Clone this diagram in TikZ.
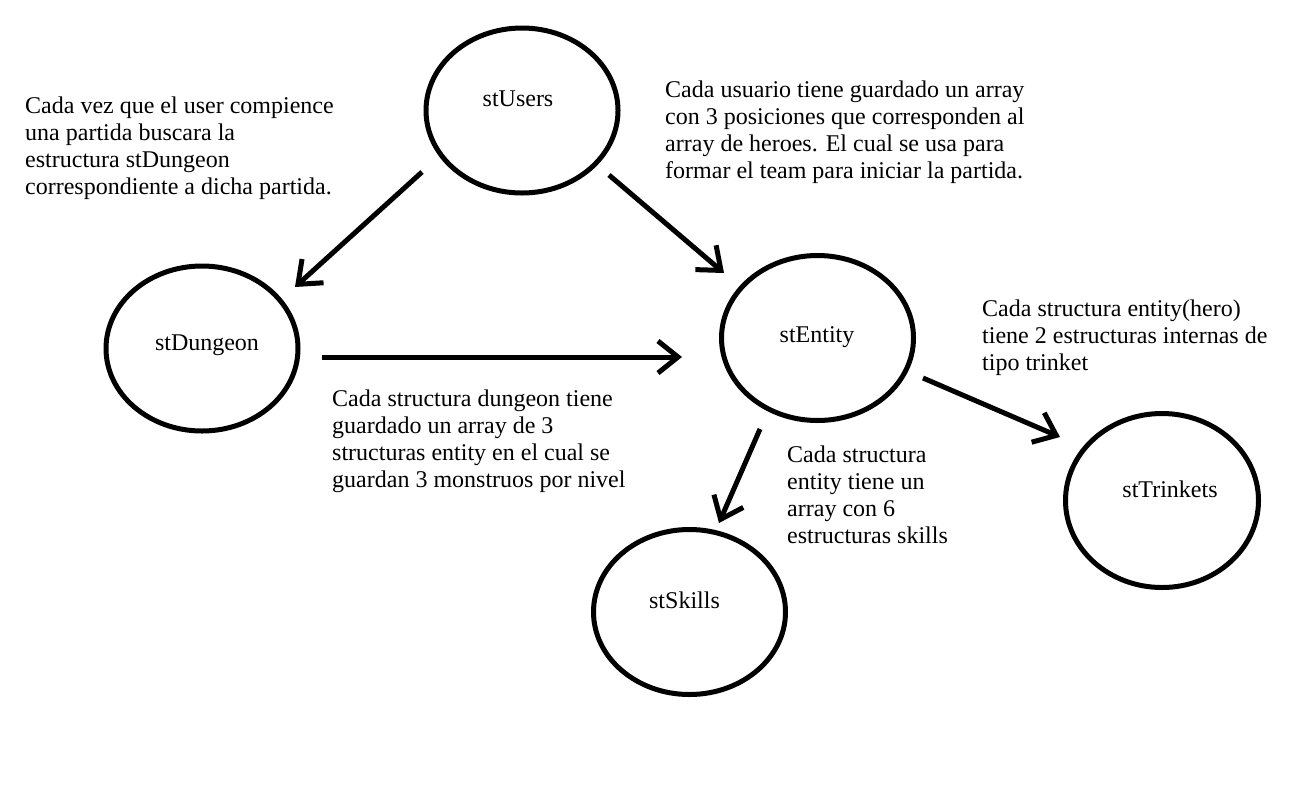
\documentclass[tikz,border=0pt]{standalone}
\usepackage{fontspec}
\setmainfont{Liberation Serif}
\usetikzlibrary{arrows.meta,shapes.geometric}
\begin{document}
\begin{tikzpicture}[x=1pt,y=-1pt,
  blob/.style={draw,ellipse,line width=5pt,inner sep=0pt,minimum width=192pt,minimum height=165pt},
  lbl/.style={inner sep=0pt,anchor=base,font=\fontsize{24}{27}\selectfont},
  note/.style={inner sep=0pt,anchor=base west,align=left,font=\fontsize{24}{27.2}\selectfont},
  conn/.style={line width=5pt,-{Straight Barb[length=20pt,width=32pt]}}]
\useasboundingbox (0,0) rectangle (1316,804);
\fill[white] (0,0) rectangle (1316,804);
% ellipses
\node[blob] (users) at (522,110.5) {};
\node[blob] (dungeon) at (202,348.5) {};
\node[blob] (entity) at (817.5,338) {};
\node[blob,minimum width=193pt,minimum height=174pt] (trinkets) at (1162,500.5) {};
\node[blob] (skills) at (689.5,612) {};
% labels
\node[lbl] (lusers) at (518,106) {stUsers};
\node[lbl] (ldungeon) at (207,350) {stDungeon};
\node[lbl] (lentity) at (817,342) {stEntity};
\node[lbl] (ltrinkets) at (1170,497) {stTrinkets};
\node[lbl] (lskills) at (684.5,608) {stSkills};
% notes (base = last line baseline)
\node[note] (n1) at (25,194.6) {Cada vez que el user compience\\una partida buscara la\\estructura stDungeon\\correspondiente a dicha partida.};
\node[note] (n2) at (665,178.6) {Cada usuario tiene guardado un array\\con 3 posiciones que corresponden al\\array de heroes. El cual se usa para\\formar el team para iniciar la partida.};
\node[note] (n3) at (332,487.6) {Cada structura dungeon tiene\\guardado un array de 3\\structuras entity en el cual se\\guardan 3 monstruos por nivel};
\node[note] (n4) at (787,543.6) {Cada structura\\entity tiene un\\array con 6\\estructuras skills};
\node[note] (n5) at (982,370.4) {Cada structura entity(hero)\\tiene 2 estructuras internas de\\tipo trinket};
% connector ends
\coordinate (a1) at (422,172); \coordinate (a2) at (295,287);
\coordinate (b1) at (609,175); \coordinate (b2) at (724,273);
\coordinate (c1) at (322,357); \coordinate (c2) at (682,357);
\coordinate (d1) at (760,429); \coordinate (d2) at (719,523);
\coordinate (e1) at (923,378); \coordinate (e2) at (1060,437);
\draw[conn] (a1) -- (a2);
\draw[conn] (b1) -- (b2);
\draw[conn] (c1) -- (c2);
\draw[conn] (d1) -- (d2);
\draw[conn] (e1) -- (e2);
\end{tikzpicture}
\end{document}
